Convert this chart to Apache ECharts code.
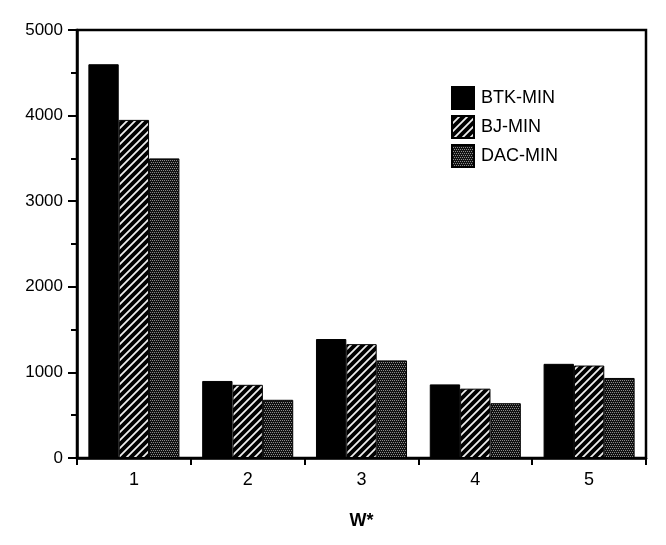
<!DOCTYPE html>
<html>
<head>
<meta charset="utf-8">
<script src="https://cdn.jsdelivr.net/npm/echarts@6/dist/echarts.min.js"></script>
<style>
html,body{margin:0;padding:0;background:#fff;}
#chart{width:666px;height:545px;}
</style>
</head>
<body>
<div id="chart"></div>
<script>
// Data
var categories = ['1', '2', '3', '4', '5'];
var seriesNames = ['BTK-MIN', 'BJ-MIN', 'DAC-MIN'];
var btkMin = [4600, 900, 1390, 860, 1100];
var bjMin  = [3950, 855, 1330, 810, 1080];
var dacMin = [3500, 680, 1140, 640, 935];
var yTicks = [0, 1000, 2000, 3000, 4000, 5000];

function hatchPattern() {
  var c = document.createElement('canvas');
  c.width = 8; c.height = 8;
  var g = c.getContext('2d');
  g.fillStyle = '#000';
  g.fillRect(0, 0, 8, 8);
  g.strokeStyle = '#eee';
  g.lineWidth = 1.8;
  g.beginPath();
  g.moveTo(-2, 10); g.lineTo(10, -2);
  g.moveTo(-6, 6); g.lineTo(6, -6);
  g.moveTo(2, 14); g.lineTo(14, 2);
  g.stroke();
  return c;
}
function dotPattern() {
  var c = document.createElement('canvas');
  c.width = 4; c.height = 4;
  var g = c.getContext('2d');
  g.fillStyle = '#111';
  g.fillRect(0, 0, 4, 4);
  g.fillStyle = '#8a8a8a';
  g.fillRect(0, 0, 1, 1);
  g.fillRect(2, 0, 1, 1);
  g.fillRect(1, 2, 1, 1);
  g.fillRect(3, 2, 1, 1);
  return c;
}

var fills = [
  '#000',
  { image: hatchPattern(), repeat: 'repeat' },
  { image: dotPattern(), repeat: 'repeat' }
];
var values = [btkMin, bjMin, dacMin];

var chart = echarts.init(document.getElementById('chart'), null, { renderer: 'canvas' });
var font = 'Liberation Sans, Arial, Helvetica, sans-serif';

chart.setOption({
  backgroundColor: '#fff',
  animation: false,
  textStyle: { fontFamily: font, color: '#000' },
  grid: {
    left: 77, right: 20, top: 30, bottom: 87,
    show: true, borderColor: '#000', borderWidth: 2.5, backgroundColor: 'transparent'
  },
  legend: {
    orient: 'vertical',
    left: 446, top: 81,
    itemWidth: 22, itemHeight: 22, itemGap: 5,
    icon: 'rect',
    textStyle: { fontFamily: font, fontSize: 18, lineHeight: 22, color: '#000', padding: [0, 0, 0, 2] },
    data: seriesNames
  },
  xAxis: {
    type: 'category',
    data: categories,
    name: 'W*',
    nameLocation: 'middle',
    nameGap: 54,
    nameTextStyle: { fontFamily: font, fontSize: 18, fontWeight: 'bold', color: '#000' },
    axisLine: { lineStyle: { color: '#000', width: 2.5 } },
    axisTick: { show: true, alignWithLabel: false, length: 7, lineStyle: { color: '#000', width: 2 } },
    axisLabel: { fontFamily: font, fontSize: 18, color: '#000', margin: 13 },
    splitLine: { show: false }
  },
  yAxis: {
    type: 'value',
    min: yTicks[0], max: yTicks[yTicks.length - 1], interval: 1000,
    axisLine: { show: true, lineStyle: { color: '#000', width: 2.5 } },
    axisTick: { show: true, length: 9, lineStyle: { color: '#000', width: 2 } },
    minorTick: { show: true, splitNumber: 2, length: 6, lineStyle: { color: '#000', width: 2 } },
    axisLabel: { fontFamily: font, fontSize: 17, color: '#000', margin: 14,
      formatter: function (v) { return String(v); } },
    splitLine: { show: false }
  },
  series: seriesNames.map(function (n, i) {
    return {
      name: n,
      type: 'bar',
      data: values[i],
      barGap: '0%',
      barCategoryGap: '20%',
      itemStyle: { color: fills[i], borderColor: '#000', borderWidth: 1 }
    };
  })
});
</script>
</body>
</html>
